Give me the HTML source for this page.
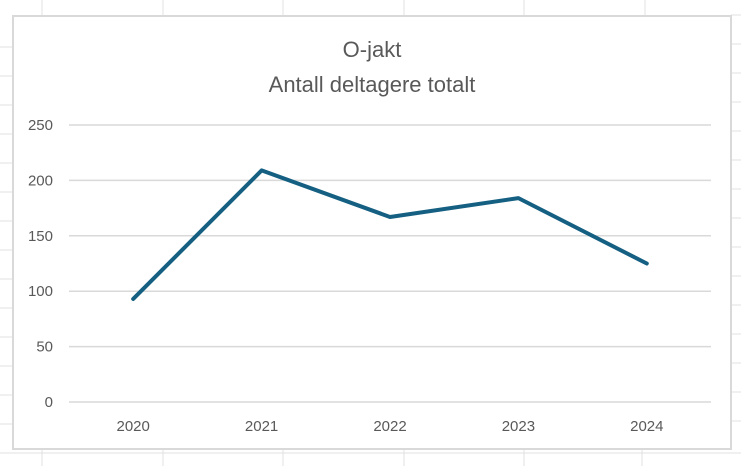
<!DOCTYPE html>
<html><head><meta charset="utf-8"><style>
body{margin:0;width:741px;height:466px;background:#fff;overflow:hidden;font-family:"Liberation Sans",sans-serif}
svg{display:block}
</style></head><body>
<svg id="c" width="741" height="466">
<g id="sheet" stroke="#e0e0e0" stroke-width="1">
<line x1="42" y1="0" x2="42" y2="16"/><line x1="163" y1="0" x2="163" y2="16"/><line x1="283" y1="0" x2="283" y2="16"/><line x1="404" y1="0" x2="404" y2="16"/><line x1="524" y1="0" x2="524" y2="16"/><line x1="645" y1="0" x2="645" y2="16"/>
<line x1="42" y1="450" x2="42" y2="466"/><line x1="163" y1="450" x2="163" y2="466"/><line x1="283" y1="450" x2="283" y2="466"/><line x1="404" y1="450" x2="404" y2="466"/><line x1="524" y1="450" x2="524" y2="466"/><line x1="642" y1="450" x2="642" y2="466"/>
<line x1="0" y1="47" x2="13" y2="47"/><line x1="0" y1="76" x2="13" y2="76"/><line x1="0" y1="105" x2="13" y2="105"/><line x1="0" y1="134" x2="13" y2="134"/><line x1="0" y1="163" x2="13" y2="163"/><line x1="0" y1="192" x2="13" y2="192"/><line x1="0" y1="221" x2="13" y2="221"/><line x1="0" y1="250" x2="13" y2="250"/><line x1="0" y1="279" x2="13" y2="279"/><line x1="0" y1="308" x2="13" y2="308"/><line x1="0" y1="337" x2="13" y2="337"/><line x1="0" y1="366" x2="13" y2="366"/><line x1="0" y1="395" x2="13" y2="395"/><line x1="0" y1="424" x2="13" y2="424"/><line x1="0" y1="453" x2="741" y2="453"/>
<line x1="731" y1="15" x2="741" y2="15"/><line x1="731" y1="44" x2="741" y2="44"/><line x1="731" y1="73" x2="741" y2="73"/><line x1="731" y1="102" x2="741" y2="102"/><line x1="731" y1="131" x2="741" y2="131"/><line x1="731" y1="160" x2="741" y2="160"/><line x1="731" y1="189" x2="741" y2="189"/><line x1="731" y1="218" x2="741" y2="218"/><line x1="731" y1="247" x2="741" y2="247"/><line x1="731" y1="276" x2="741" y2="276"/><line x1="731" y1="305" x2="741" y2="305"/><line x1="731" y1="334" x2="741" y2="334"/><line x1="731" y1="363" x2="741" y2="363"/><line x1="731" y1="392" x2="741" y2="392"/><line x1="731" y1="421" x2="741" y2="421"/>
</g>
<rect x="13" y="16" width="718" height="433" fill="#fff" stroke="#d9d9d9" stroke-width="2"/>
<text x="372" y="57" text-anchor="middle" font-size="22" fill="#595959">O-jakt</text>
<text x="372" y="92" text-anchor="middle" font-size="22" fill="#595959">Antall deltagere totalt</text>
<g id="grid"></g><g id="yl"></g><g id="xl"></g><g id="ser"></g>
</svg>
<script>
const categories=["2020","2021","2022","2023","2024"];
const values=[93,209,167,184,125];
const yTicks=[0,50,100,150,200,250];
const NS="http://www.w3.org/2000/svg";
const x0=69,x1=711,y0=402,y1=125,yMax=250;
const band=(x1-x0)/categories.length;
const xs=i=>x0+band*(i+0.5);
const ys=v=>y0-(v/yMax)*(y0-y1);
function mk(t,a,p){const e=document.createElementNS(NS,t);for(const k in a)e.setAttribute(k,a[k]);p.appendChild(e);return e;}
const g=document.getElementById('grid'),yl=document.getElementById('yl'),xl=document.getElementById('xl'),ser=document.getElementById('ser');
yTicks.forEach(t=>{
const l=mk('line',{x1:x0,x2:x1,y1:ys(t),y2:ys(t),stroke:'#d9d9d9','stroke-width':1.5},g);


const tx=mk('text',{x:53,y:ys(t)+5,'text-anchor':'end','font-size':15,fill:'#595959'},yl);
tx.textContent=t;


});
categories.forEach((c,i)=>{
const tx=mk('text',{x:xs(i),y:431,'text-anchor':'middle','font-size':15,fill:'#595959'},xl);
tx.textContent=c;


});
const pts=values.map((v,i)=>xs(i)+','+ys(v)).join(' ');
const pl=mk('polyline',{points:pts,fill:'none',stroke:'#156082','stroke-width':4,'stroke-linejoin':'round','stroke-linecap':'round'},ser);


</script>
</body></html>
